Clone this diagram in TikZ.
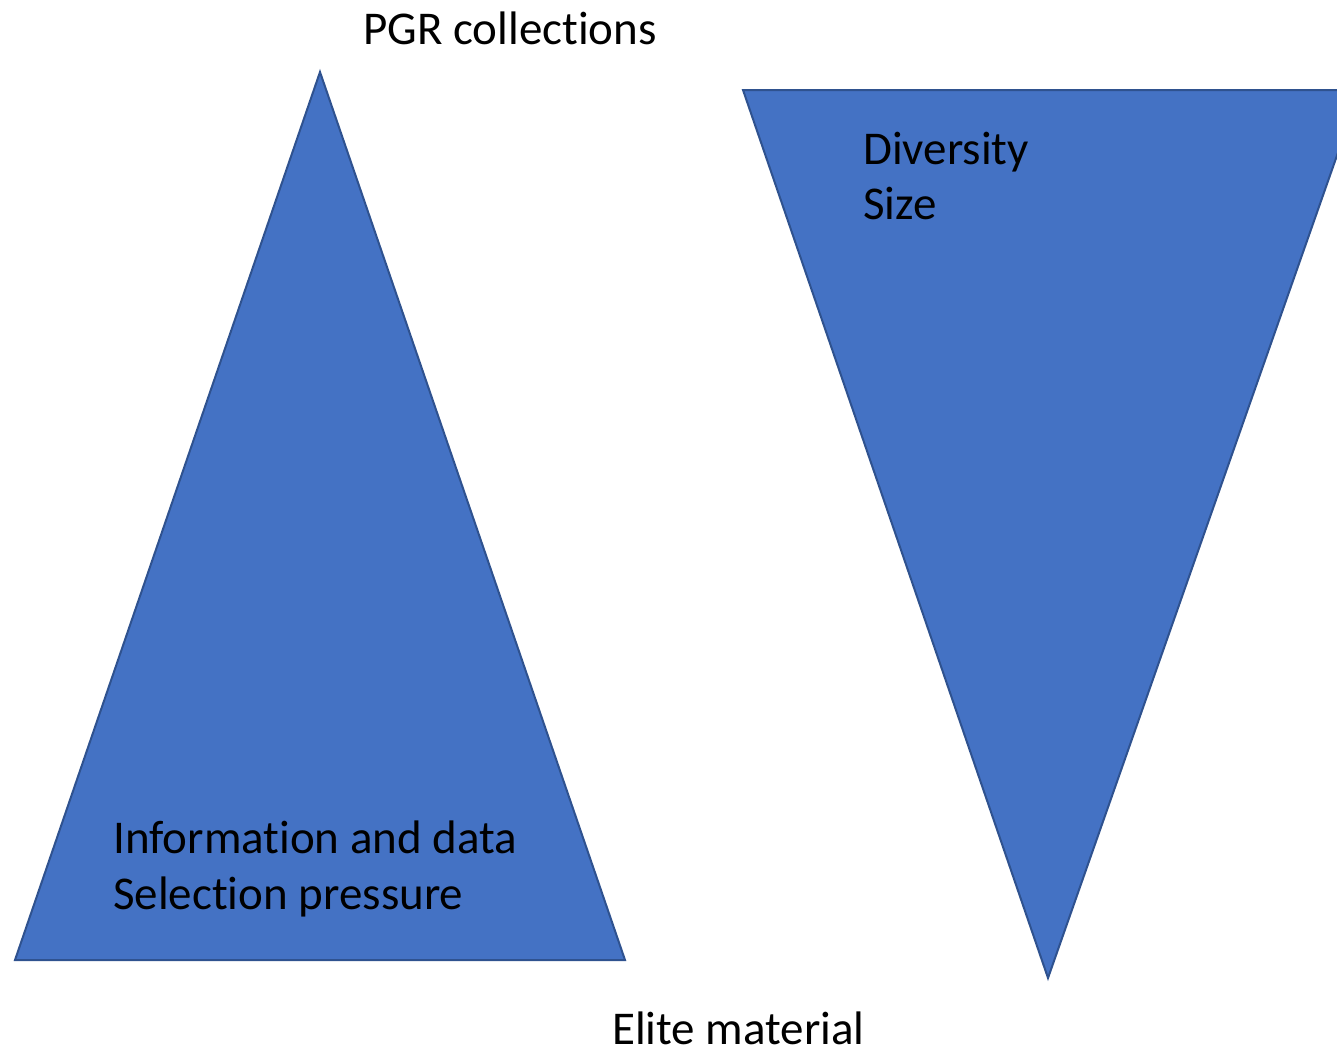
\documentclass[tikz,border=0pt]{standalone}
\usepackage{fontspec}
\setmainfont{Carlito}[Ligatures={NoCommon}]
\definecolor{shapefill}{HTML}{4472C4}
\definecolor{shapeedge}{HTML}{2F528F}
\tikzset{
  wedge/.style={fill=shapefill, draw=shapeedge, line width=2pt, line join=miter},
  caption/.style={font=\fontsize{47}{56}\selectfont, anchor=base west, inner sep=0pt, align=left, text=black}
}
\begin{document}
\begin{tikzpicture}[x=1pt,y=-1pt]
  \useasboundingbox (0,0) rectangle (1337,1052);
  \begin{scope}
    \clip (0,0) rectangle (1337,1052);
    % upward triangle
    \coordinate (a1) at (320,72);
    \coordinate (a2) at (625,960);
    \coordinate (a3) at (15,960);
    \draw[wedge] (a1) -- (a2) -- (a3) -- cycle;
    % downward triangle
    \coordinate (b1) at (743,90);
    \coordinate (b2) at (1360,90);
    \coordinate (b3) at (1048,978);
    \draw[wedge] (b1) -- (b2) -- (b3) -- cycle;
  \end{scope}
  \node[caption] (top) at (363,44) {PGR collections};
  \node[caption] (bottom) at (612,1044) {Elite material};
  \node[caption] (info) at (113,853) {Information and data};
  \node[caption] (sel) at (113,909) {Selection pressure};
  \node[caption] (div) at (863,164) {Diversity};
  \node[caption] (size) at (863,219) {Size};
\end{tikzpicture}
\end{document}
